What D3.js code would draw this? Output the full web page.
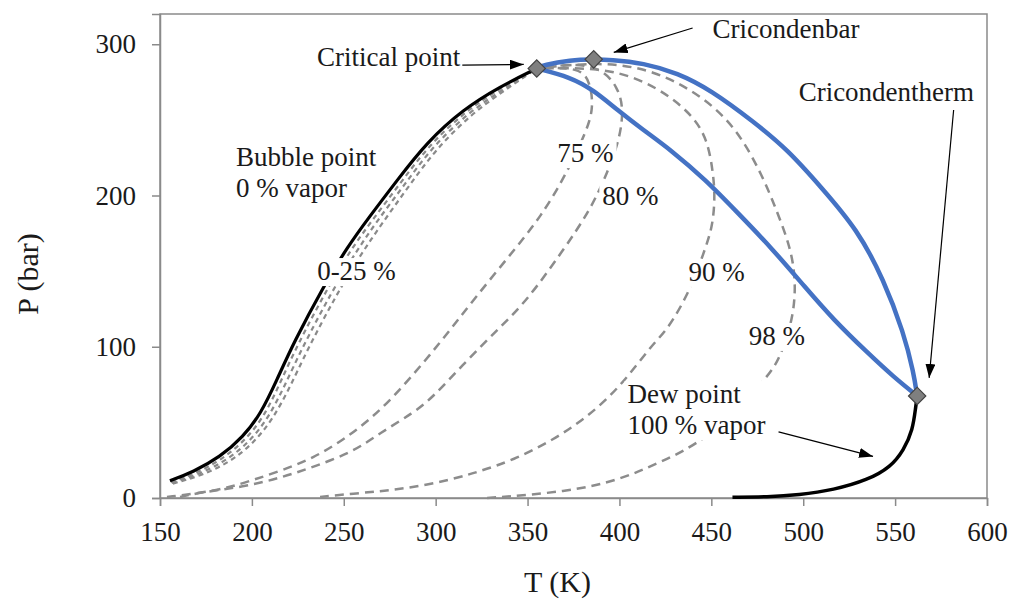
<!DOCTYPE html>
<html>
<head>
<meta charset="utf-8">
<script src="https://cdn.jsdelivr.net/npm/d3@7"></script>
<style>
  html, body { margin: 0; padding: 0; background: #fff; }
  svg { display: block; }
  text { font-family: "Liberation Serif", "Times New Roman", serif; fill: #1a1a1a; }
</style>
</head>
<body>
<svg id="chart" width="1011" height="599"></svg>
<script>
// Phase envelope: temperature T (K) vs pressure P (bar), points as [T, P]
const bubbleCurve = [[155.4,11.4],[168,17.2],[182.7,27.1],[195.2,40.3],[205,56],[213.6,78],[222.6,102.4],[239,140],[252,166],[264,186],[279,210],[295,235],[315,257],[335,272],[355,284]];
const dewUpper = [[355,284],[358.6,286.3],[373.3,289.6],[386,290],[395.1,289.8],[413,287.6],[431.6,281],[449.6,269.8],[473,248.8],[491.5,230.3],[509.5,205.8],[529.6,177.4],[543.8,144.3],[554.7,109.2],[560.1,82.7],[562,67.5]];
const innerBlue = [[355,284],[373.3,278.3],[385.8,269.8],[398.9,256.5],[413,243.3],[427.8,230.3],[446.8,210.5],[464.3,188.6],[482.2,166.1],[501.3,139],[516.6,117.7],[535.1,95.9],[549.2,80],[562,67.5]];
const dewLower = [[562,67.5],[561.2,60.2],[559.6,45],[554.7,31.7],[547.6,20.5],[535.1,11.9],[516.6,5.3],[497.5,2],[480.6,0.7],[461.5,0.5]];

// Vapor fraction lines inside the envelope
const quality05 = [[156,10.5],[169.5,16.2],[184.5,26],[197,39],[207,54.5],[215.5,76.5],[224.5,100.5],[241,138.5],[254,164.5],[266,184.5],[281,208.5],[296.5,233.5],[316.5,256],[336,271.5],[355,284]];
const quality15 = [[156.5,10],[171,15.5],[186.5,25],[199,37.5],[209,53],[218,74.5],[227,98.5],[243.5,136.5],[256.5,162.5],[268,183],[283,207],[298,232],[318,255],[337,270.5],[355,284]];
const quality25 = [[157,9.5],[172.5,14.8],[188.5,24],[201,36.5],[211,51.5],[220.5,72.5],[229.5,96.5],[246,134.5],[259,160.5],[270.5,181],[285,205.5],[300,230.5],[319.5,254],[338,270],[355,284]];
const quality75 = [[153.8,0.7],[171.8,3.3],[186.5,6.6],[200.7,11.9],[217,18.5],[233.3,26.4],[249.7,38.3],[266,53.6],[280.7,71.4],[302.5,102.6],[320.5,131],[346,168.8],[357,186],[369.5,210.5],[382.6,243.5],[385.8,258.5],[384.2,274.4],[378.8,285],[355,284]];
const quality80 = [[160.9,0.7],[173.4,4],[195.2,7.3],[215.4,13.2],[233.3,20.5],[255.1,30.4],[269.8,43],[287.8,56.2],[298.7,66.8],[317.2,91.3],[335.2,113],[350,131],[369.5,164],[384.2,190.6],[393.5,215],[400.5,238.7],[402.2,258.5],[398.9,271.7],[391.3,283],[377.1,287.6],[355,284]];
const quality90 = [[237.1,0.7],[258.9,3.3],[276.9,5.3],[295.4,8.6],[313.4,13.9],[322.7,17.2],[342.3,25],[364,38.4],[382.6,53.6],[400.5,73.5],[418.5,102.6],[426.1,111],[438.7,137.7],[445.8,162],[450.7,179],[452,199],[451,215],[447.9,237],[440.3,252],[427.8,265.4],[411.4,277],[389.6,284.6],[355,284]];
const quality98 = [[328,0],[371.7,4],[400.5,12],[422.3,23.8],[448,38.4],[480.6,79.4],[487.7,93.3],[494.8,119.8],[496,144.3],[493,166],[486,188.6],[477.9,213],[464.3,243.5],[445.8,265.4],[418.5,283.3],[389.6,288.5],[355,284]];

// Special points on the envelope
const criticalPoint = [355, 284];
const cricondenbar = [386, 290];
const cricondentherm = [562, 67.5];

// Axis ticks
const xTicks = [150, 200, 250, 300, 350, 400, 450, 500, 550, 600];
const yTicks = [0, 100, 200, 300];

const svg = d3.select("#chart");
const margin = { top: 14, right: 24, bottom: 101, left: 160 };
const W = 1011, H = 599;
const x = d3.scaleLinear().domain([150, 600]).range([margin.left, W - margin.right]);
const y = d3.scaleLinear().domain([0, 320]).range([H - margin.bottom, margin.top]);

const axisColor = "#8a8a8a";
const fontSize = 27;

// plot frame
svg.append("rect")
  .attr("x", margin.left).attr("y", margin.top)
  .attr("width", W - margin.right - margin.left)
  .attr("height", H - margin.bottom - margin.top)
  .attr("fill", "none").attr("stroke", axisColor).attr("stroke-width", 1.5);

// axes
const gx = svg.append("g")
  .attr("transform", `translate(0,${H - margin.bottom})`)
  .call(d3.axisBottom(x).tickValues(xTicks).tickSize(8).tickFormat(d3.format("d")));
gx.selectAll("text").attr("y", 43).attr("dy", 0);

const gy = svg.append("g")
  .attr("transform", `translate(${margin.left},0)`)
  .call(d3.axisLeft(y).tickValues(yTicks).tickSize(8).tickPadding(16).tickFormat(d3.format("d")));

[gx, gy].forEach(g => {
  g.select(".domain").attr("stroke", axisColor).attr("stroke-width", 1.5);
  g.selectAll(".tick line").attr("stroke", axisColor).attr("stroke-width", 1.5);
  g.selectAll("text").attr("font-size", fontSize)
    .attr("font-family", "Liberation Serif, serif").attr("fill", "#1a1a1a");
});

// axis titles
svg.append("text")
  .attr("x", (x(150) + x(600)) / 2 - 16).attr("y", 592)
  .attr("text-anchor", "middle").attr("font-size", 30)
  .text("T (K)");
svg.append("text")
  .attr("transform", `translate(38,${(y(0) + y(320)) / 2 + 18}) rotate(-90)`)
  .attr("text-anchor", "middle").attr("font-size", 30)
  .text("P (bar)");

const line = d3.line()
  .x(d => x(d[0])).y(d => y(d[1]))
  .curve(d3.curveBasis);

const plot = svg.append("g");

// vapor fraction lines (dashed)
[quality05, quality15, quality25].forEach(s => {
  plot.append("path").attr("d", line(s))
    .attr("fill", "none").attr("stroke", "#8a8a8a")
    .attr("stroke-width", 2.2).attr("stroke-dasharray", "5,4");
});
[quality75, quality80, quality90, quality98].forEach(s => {
  plot.append("path").attr("d", line(s))
    .attr("fill", "none").attr("stroke", "#8c8c8c")
    .attr("stroke-width", 2.5).attr("stroke-dasharray", "9,6");
});

// bubble point curve
plot.append("path").attr("d", line(bubbleCurve))
  .attr("fill", "none").attr("stroke", "#000").attr("stroke-width", 3.2);

// blue envelope segments
[dewUpper, innerBlue].forEach(s => {
  plot.append("path").attr("d", line(s))
    .attr("fill", "none").attr("stroke", "#4472C4")
    .attr("stroke-width", 4.5).attr("stroke-linecap", "round");
});

// low-pressure dew point curve
plot.append("path").attr("d", line(dewLower))
  .attr("fill", "none").attr("stroke", "#000").attr("stroke-width", 3.5);

// labels, placed in data units; some get a white backing
const labels = [
  { lines: ["Bubble point", "0 % vapor"], T: 191.4, P: 219.5, bg: false },
  { lines: ["0-25 %"], T: 235.5, P: 144.1, bg: true },
  { lines: ["75 %"], T: 366.2, P: 222.1, bg: true },
  { lines: ["80 %"], T: 390.7, P: 193.7, bg: true },
  { lines: ["90 %"], T: 437.6, P: 143.5, bg: true },
  { lines: ["98 %"], T: 470.3, P: 101.2, bg: true },
  { lines: ["Dew point", "100 % vapor"], T: 404.4, P: 62.8, bg: true },
  { lines: ["Critical point"], T: 313.4, P: 285.6, bg: false, anchor: "end" },
  { lines: ["Cricondenbar"], T: 450.7, P: 304.1, bg: false },
  { lines: ["Cricondentherm"], T: 497.5, P: 262.5, bg: false }
];
const lineGap = 31;
labels.forEach(l => {
  const g = svg.append("g");
  const t = g.append("text")
    .attr("x", x(l.T)).attr("y", y(l.P))
    .attr("font-size", fontSize)
    .attr("text-anchor", l.anchor || "start");
  l.lines.forEach((s, i) => {
    t.append("tspan").attr("x", x(l.T)).attr("dy", i === 0 ? 0 : lineGap).text(s);
  });
  if (l.bg) {
    const b = t.node().getBBox();
    g.insert("rect", "text")
      .attr("x", b.x - 3).attr("y", b.y + 2)
      .attr("width", b.width + 6).attr("height", b.height - 2)
      .attr("fill", "#fff");
  }
});

// arrowheads
svg.append("defs").append("marker")
  .attr("id", "head").attr("viewBox", "0 0 14 10")
  .attr("refX", 14).attr("refY", 5)
  .attr("markerWidth", 14).attr("markerHeight", 10)
  .attr("markerUnits", "userSpaceOnUse").attr("orient", "auto")
  .append("path").attr("d", "M0,0 L14,5 L0,10 Z").attr("fill", "#000");

const arrows = [
  { from: [x(313.4) + 2, y(285.6) - 1], to: [x(criticalPoint[0]) - 13, y(criticalPoint[1]) - 4] },
  { from: [x(450.7) - 20, y(304.1) - 10], to: [x(cricondenbar[0]) + 20, y(cricondenbar[1]) - 7] },
  { from: [x(497.5) + 155, y(262.5) + 9], to: [x(cricondentherm[0]) + 12, y(cricondentherm[1]) - 18] },
  { from: [x(404.4) + 151, y(41.7) - 3], to: [x(538), y(27.5)] }
];
arrows.forEach(a => {
  svg.append("line")
    .attr("x1", a.from[0]).attr("y1", a.from[1])
    .attr("x2", a.to[0]).attr("y2", a.to[1])
    .attr("stroke", "#000").attr("stroke-width", 1.2)
    .attr("marker-end", "url(#head)");
});

// diamond markers on the special points
svg.selectAll(".pt").data([criticalPoint, cricondenbar, cricondentherm]).join("path")
  .attr("class", "pt")
  .attr("d", d3.symbol(d3.symbolSquare, 150)())
  .attr("transform", d => `translate(${x(d[0])},${y(d[1])}) rotate(45)`)
  .attr("fill", "#7f7f7f").attr("stroke", "#444").attr("stroke-width", 1.2);
</script>
</body>
</html>
